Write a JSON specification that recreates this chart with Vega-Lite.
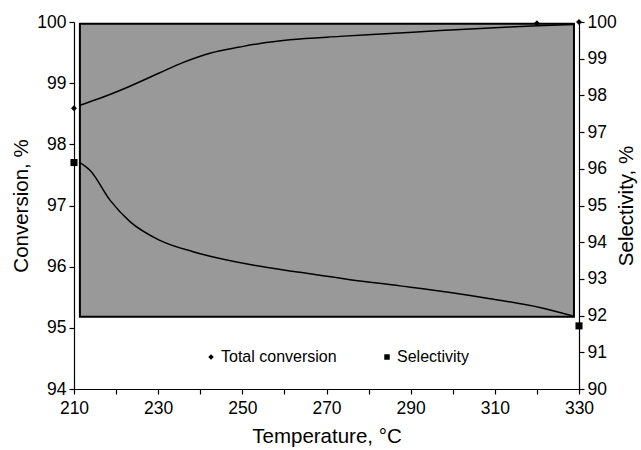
{
  "$schema": "https://vega.github.io/schema/vega-lite/v6.json",
  "width": 505,
  "height": 367,
  "autosize": {"type": "none"},
  "padding": {"left": 74, "top": 22, "right": 62, "bottom": 61},
  "background": "white",
  "config": {
    "view": {"stroke": null},
    "font": "Liberation Sans",
    "axis": {
      "domainColor": "black", "tickColor": "black", "labelColor": "black", "titleColor": "black",
      "grid": false, "labelFont": "Liberation Sans", "titleFont": "Liberation Sans",
      "labelFontSize": 17.5, "titleFontSize": 20.5, "titleFontWeight": "normal",
      "tickSize": 5, "domainWidth": 1.2, "tickWidth": 1.2, "labelPadding": 3
    },
    "legend": {"labelFont": "Liberation Sans", "labelFontSize": 16, "labelColor": "black"}
  },
  "datasets": {
    "box": [{"t": 211.4, "t2": 328.8, "v": 91.97, "v2": 99.95}],
    "conv_line": [
      {"t": 211.4, "v": 98.64}, {"t": 216, "v": 98.75}, {"t": 222.6, "v": 98.93},
      {"t": 230.4, "v": 99.17}, {"t": 236, "v": 99.34}, {"t": 242.3, "v": 99.49},
      {"t": 249.4, "v": 99.59}, {"t": 254.2, "v": 99.65}, {"t": 261.3, "v": 99.71},
      {"t": 273.2, "v": 99.765}, {"t": 285.1, "v": 99.81}, {"t": 297, "v": 99.86},
      {"t": 310, "v": 99.905}, {"t": 320, "v": 99.94}, {"t": 328.8, "v": 99.96}
    ],
    "conv_pts": [
      {"t": 210, "v": 98.59, "s": "Total conversion"},
      {"t": 320, "v": 99.98, "s": "Total conversion"},
      {"t": 330, "v": 100, "s": "Total conversion"}
    ],
    "sel_line": [
      {"t": 211.4, "v": 96.17}, {"t": 213.8, "v": 95.96},
      {"t": 218.6, "v": 95.14}, {"t": 223.3, "v": 94.56}, {"t": 230.4, "v": 94.05},
      {"t": 238.3, "v": 93.74}, {"t": 251.8, "v": 93.39}, {"t": 263.7, "v": 93.18},
      {"t": 275.6, "v": 92.98}, {"t": 287.5, "v": 92.81}, {"t": 299.4, "v": 92.63},
      {"t": 308.9, "v": 92.46}, {"t": 320.7, "v": 92.22}, {"t": 328.8, "v": 91.98}
    ],
    "sel_pts": [
      {"t": 210, "v": 96.17, "s": "Selectivity"},
      {"t": 330, "v": 91.72, "s": "Selectivity"}
    ]
  },
  "encoding": {
    "x": {
      "field": "t", "type": "quantitative",
      "scale": {"domain": [210, 330], "nice": false, "zero": false},
      "axis": {
        "title": "Temperature, °C", "values": [210, 220, 230, 240, 250, 260, 270, 280, 290, 300, 310, 320, 330],
        "labelExpr": "(datum.value - 210) % 20 == 0 ? datum.label : ''",
        "titlePadding": 10, "labelPadding": 5, "labelFlush": false
      }
    }
  },
  "layer": [
    {
      "encoding": {
        "y": {
          "field": "v", "type": "quantitative",
          "scale": {"domain": [90, 100], "nice": false, "zero": false},
          "axis": {"orient": "right", "title": "Selectivity, %", "values": [90, 91, 92, 93, 94, 95, 96, 97, 98, 99, 100], "titleAngle": -90, "titlePadding": 20}
        }
      },
      "layer": [
        {
          "data": {"name": "box"},
          "mark": {"type": "rect", "fill": "#999999", "stroke": "black", "strokeWidth": 2},
          "encoding": {"x2": {"field": "t2"}, "y2": {"field": "v2"}}
        },
        {
          "data": {"name": "sel_line"},
          "mark": {"type": "line", "color": "black", "strokeWidth": 1.5, "interpolate": "monotone"},
          "encoding": {}
        },
        {
          "data": {"name": "sel_pts"},
          "mark": {"type": "point", "filled": true, "color": "black", "opacity": 1, "size": 50},
          "encoding": {
            "shape": {
              "field": "s", "type": "nominal",
              "scale": {"domain": ["Total conversion", "Selectivity"], "range": ["diamond", "square"]},
              "legend": {
                "title": null, "orient": "none", "legendX": 129, "legendY": 327, "direction": "horizontal",
                "symbolSize": 30, "symbolFillColor": "black", "symbolStrokeColor": "black",
                "columnPadding": 42, "labelOffset": 2
              }
            }
          }
        }
      ]
    },
    {
      "encoding": {
        "y": {
          "field": "v", "type": "quantitative",
          "scale": {"domain": [94, 100], "nice": false, "zero": false},
          "axis": {"orient": "left", "title": "Conversion, %", "values": [94, 95, 96, 97, 98, 99, 100], "titlePadding": 5}
        }
      },
      "layer": [
        {
          "data": {"name": "conv_line"},
          "mark": {"type": "line", "color": "black", "strokeWidth": 1.5, "interpolate": "monotone"},
          "encoding": {}
        },
        {
          "data": {"name": "conv_pts"},
          "mark": {"type": "point", "filled": true, "color": "black", "opacity": 1, "size": 35},
          "encoding": {
            "shape": {"field": "s", "type": "nominal"}
          }
        }
      ]
    }
  ],
  "resolve": {"scale": {"y": "independent"}}
}
